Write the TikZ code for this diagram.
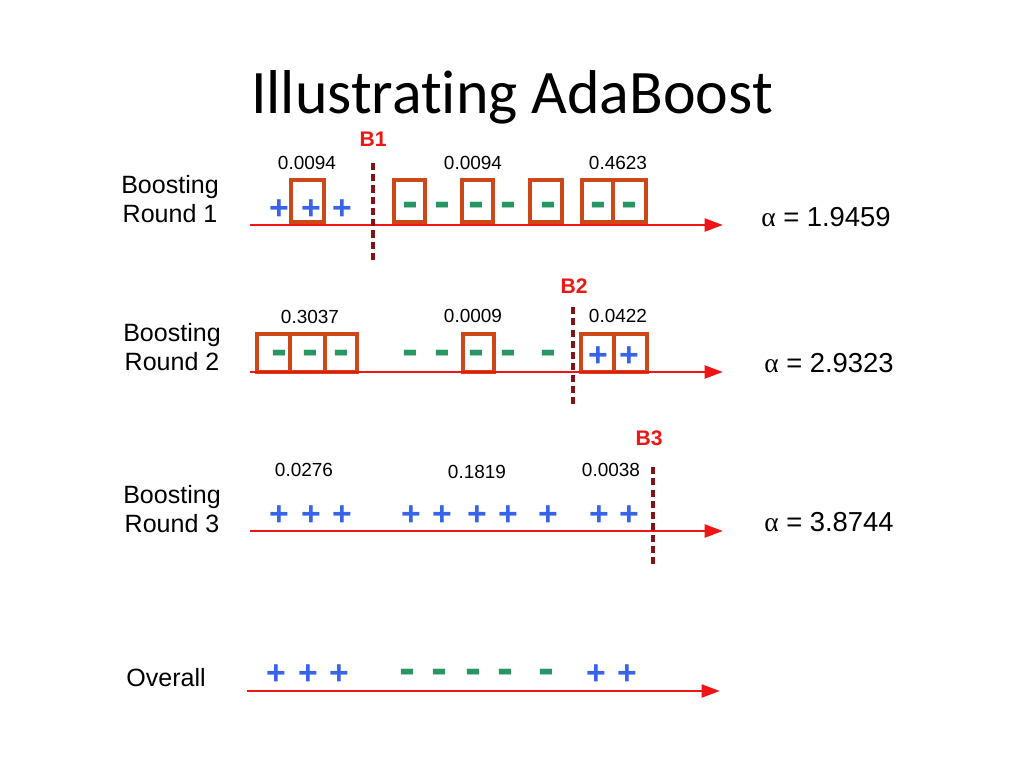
\documentclass[tikz,border=0pt]{standalone}
\usepackage{fontspec}
\setmainfont{Liberation Sans}
\newfontfamily\titlefont[Ligatures={NoCommon}]{Carlito}
\newfontfamily\greekfont{Liberation Serif}
\usepackage{xcolor}
\usepackage{tikz}
\usetikzlibrary{arrows.meta}

\definecolor{axisred}{RGB}{240,20,20}
\definecolor{boxorange}{RGB}{204,72,24}
\definecolor{cutred}{RGB}{130,20,25}
\definecolor{plusblue}{RGB}{55,100,235}
\definecolor{minusgreen}{RGB}{40,150,100}

\begin{document}
\begin{tikzpicture}[x=0.025cm, y=-0.025cm,
    axis/.style={draw=axisred, line width=2.1pt, -{Triangle[length=13pt,width=9pt]}},
    cut/.style={draw=cutred, line width=2.4pt, dash pattern=on 5pt off 3pt},
    wbox/.style={draw=boxorange, line width=2.5pt},
    plusmark/.style={text=plusblue, inner sep=0pt, font=\bfseries\fontsize{24}{24}\selectfont},
    minusmark/.style={text=minusgreen, inner sep=0pt, font=\bfseries\fontsize{34}{34}\selectfont},
    weight/.style={inner sep=0pt, font=\fontsize{13.5}{15}\selectfont},
    bname/.style={text=axisred, inner sep=0pt, font=\bfseries\fontsize{15}{17}\selectfont},
    rname/.style={inner sep=0pt, align=center, font=\fontsize{17.8}{20}\selectfont},
    alpha/.style={inner sep=0pt, font=\fontsize{19.5}{21}\selectfont}]
        \useasboundingbox[fill=white] (0,0) rectangle (1024,768);

        \node[inner sep=0pt, anchor=base, font=\titlefont\fontsize{44}{48}\selectfont] (title) at (512,114) {Illustrating AdaBoost};

        % round 1
        \node[rname] (R1) at (170,199) {Boosting\\Round 1};
        \coordinate (A1s) at (250,225);
        \coordinate (A1e) at (723,225);
        \draw[wbox] (291,180) rectangle (324,222);
        \draw[wbox] (394,180) rectangle (425,222);
        \draw[wbox] (462,180) rectangle (493,222);
        \draw[wbox] (530,180) rectangle (562,222);
        \draw[wbox] (582,180) rectangle (613,222);
        \draw[wbox] (613,180) rectangle (646,222);
        \path[axis] (A1s) -- (A1e);
        \node[plusmark] (p11) at (279,210) {+};
        \node[plusmark] (p12) at (311,210) {+};
        \node[plusmark] (p13) at (342,210) {+};
        \node[minusmark] (m11) at (410,210) {-};
        \node[minusmark] (m12) at (442,210) {-};
        \node[minusmark] (m13) at (476,210) {-};
        \node[minusmark] (m14) at (508,210) {-};
        \node[minusmark] (m15) at (548,210) {-};
        \node[minusmark] (m16) at (598,210) {-};
        \node[minusmark] (m17) at (629,210) {-};
        \node[weight] (w11) at (307,163) {0.0094};
        \node[weight] (w12) at (473,163) {0.0094};
        \node[weight] (w13) at (618,163) {0.4623};
        \coordinate (C1t) at (373,163);
        \coordinate (C1b) at (373,263);
        \path[cut] (C1t) -- (C1b);
        \node[bname] (B1) at (373,139) {B1};
        \node[alpha] (a1) at (826,217) {{\greekfont α} = 1.9459};

        % round 2
        \node[rname] (R2) at (172,347) {Boosting\\Round 2};
        \coordinate (A2s) at (250,372);
        \coordinate (A2e) at (723,372);
        \draw[wbox] (257,334) rectangle (290,372);
        \draw[wbox] (290,334) rectangle (325,372);
        \draw[wbox] (325,334) rectangle (357,372);
        \draw[wbox] (463,334) rectangle (494,372);
        \draw[wbox] (581,334) rectangle (614,372);
        \draw[wbox] (614,334) rectangle (647,372);
        \path[axis] (A2s) -- (A2e);
        \node[minusmark] (m21) at (279,358) {-};
        \node[minusmark] (m22) at (310,358) {-};
        \node[minusmark] (m23) at (341,358) {-};
        \node[minusmark] (m24) at (410,358) {-};
        \node[minusmark] (m25) at (442,358) {-};
        \node[minusmark] (m26) at (476,358) {-};
        \node[minusmark] (m27) at (508,358) {-};
        \node[minusmark] (m28) at (548,358) {-};
        \node[plusmark] (p21) at (598,357) {+};
        \node[plusmark] (p22) at (629,357) {+};
        \node[weight] (w21) at (310,317) {0.3037};
        \node[weight] (w22) at (473,316) {0.0009};
        \node[weight] (w23) at (618,316) {0.0422};
        \coordinate (C2t) at (573,307);
        \coordinate (C2b) at (573,407);
        \path[cut] (C2t) -- (C2b);
        \node[bname] (B2) at (574,286) {B2};
        \node[alpha] (a2) at (829,363) {{\greekfont α} = 2.9323};

        % round 3
        \node[rname] (R3) at (172,509) {Boosting\\Round 3};
        \coordinate (A3s) at (250,531);
        \coordinate (A3e) at (723,531);
        \path[axis] (A3s) -- (A3e);
        \node[plusmark] (p31) at (279,516) {+};
        \node[plusmark] (p32) at (311,516) {+};
        \node[plusmark] (p33) at (342,516) {+};
        \node[plusmark] (p34) at (411,516) {+};
        \node[plusmark] (p35) at (442,516) {+};
        \node[plusmark] (p36) at (477,516) {+};
        \node[plusmark] (p37) at (508,516) {+};
        \node[plusmark] (p38) at (548,516) {+};
        \node[plusmark] (p39) at (599,516) {+};
        \node[plusmark] (p310) at (629,516) {+};
        \node[weight] (w31) at (304,470) {0.0276};
        \node[weight] (w32) at (477,472) {0.1819};
        \node[weight] (w33) at (611,470) {0.0038};
        \coordinate (C3t) at (653,467);
        \coordinate (C3b) at (653,567);
        \path[cut] (C3t) -- (C3b);
        \node[bname] (B3) at (649,438) {B3};
        \node[alpha] (a3) at (829,522) {{\greekfont α} = 3.8744};

        % overall
        \node[rname] (R4) at (166,678) {Overall};
        \coordinate (A4s) at (247,691);
        \coordinate (A4e) at (720,691);
        \path[axis] (A4s) -- (A4e);
        \node[plusmark] (p41) at (276,675) {+};
        \node[plusmark] (p42) at (308,675) {+};
        \node[plusmark] (p43) at (339,675) {+};
        \node[minusmark] (m41) at (407,677) {-};
        \node[minusmark] (m42) at (439,677) {-};
        \node[minusmark] (m43) at (473,677) {-};
        \node[minusmark] (m44) at (505,677) {-};
        \node[minusmark] (m45) at (546,677) {-};
        \node[plusmark] (p44) at (596,675) {+};
        \node[plusmark] (p45) at (627,675) {+};
    \end{tikzpicture}
\end{document}
